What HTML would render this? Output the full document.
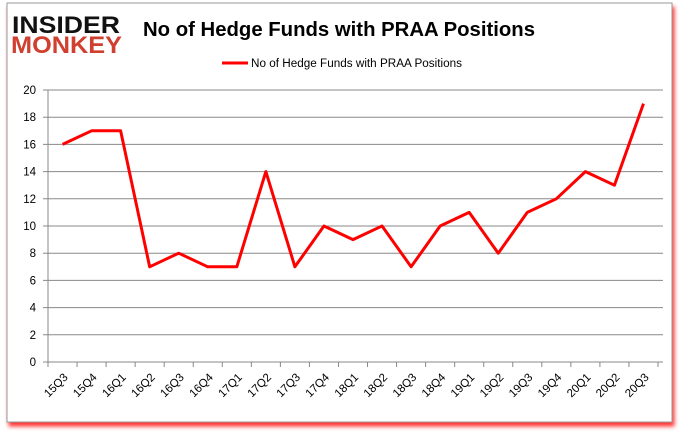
<!DOCTYPE html>
<html><head><meta charset="utf-8"><style>
body{margin:0;background:#fff;width:680px;height:433px;overflow:hidden;font-family:"Liberation Sans",sans-serif}
</style></head><body>
<svg width="680" height="433" xmlns="http://www.w3.org/2000/svg">
<defs><filter id="sh" x="-5%" y="-5%" width="110%" height="110%"><feDropShadow dx="2" dy="4" stdDeviation="2" flood-color="#f00" flood-opacity="0.8"/></filter></defs>
<rect x="7" y="3" width="665" height="419" fill="#fff" stroke="#999" filter="url(#sh)"/>
<g>
<text x="12" y="33" font-size="24" font-weight="bold" font-family="Liberation Sans" fill="#111" textLength="108" lengthAdjust="spacingAndGlyphs">INSIDER</text>
<text x="11" y="53" font-size="24" font-weight="bold" font-family="Liberation Sans" fill="#d04030" textLength="111" lengthAdjust="spacingAndGlyphs">MONKEY</text>
</g>
<text x="339" y="36" text-anchor="middle" font-size="20" font-weight="bold" fill="#000" textLength="392" lengthAdjust="spacingAndGlyphs">No of Hedge Funds with PRAA Positions</text>
<g>
<line x1="222" y1="63" x2="248" y2="63" stroke="#f00" stroke-width="3"/>
<text x="251" y="67" font-size="11.5" fill="#000" textLength="211" lengthAdjust="spacingAndGlyphs">No of Hedge Funds with PRAA Positions</text>
</g>
<g id="grid"></g><g id="axes"></g><g id="series"></g>
</svg>
<script>
const categories=["15Q3","15Q4","16Q1","16Q2","16Q3","16Q4","17Q1","17Q2","17Q3","17Q4","18Q1","18Q2","18Q3","18Q4","19Q1","19Q2","19Q3","19Q4","20Q1","20Q2","20Q3"];
const values=[16,17,17,7,8,7,7,14,7,10,9,10,7,10,11,8,11,12,14,13,19];
const yTicks=[0,2,4,6,8,10,12,14,16,18,20];
const NS="http://www.w3.org/2000/svg";
const L=48,R=658,T=90,B=362,YMAX=20;
const step=(R-L)/categories.length;
const x=i=>L+step*(i+0.5);
const y=v=>B-(v/YMAX)*(B-T);
function mk(tag,attrs,parent){const e=document.createElementNS(NS,tag);for(const k in attrs)e.setAttribute(k,attrs[k]);document.getElementById(parent).appendChild(e);return e;}
yTicks.forEach(t=>{
 const g=mk('line',{x1:L-5,x2:663,y1:y(t),y2:y(t),stroke:'#888','stroke-width':1},'grid');
 
 
 const tx=mk('text',{x:L-12,y:y(t)+4,'text-anchor':'end','font-size':11.5,fill:'#000'},'axes');
 tx.textContent=t;
 
 
});
const ax=mk('line',{x1:L,x2:L,y1:T,y2:B,stroke:'#888'},'axes');


for(let i=0;i<=categories.length;i++){
 const tk=mk('line',{x1:L+step*i,x2:L+step*i,y1:B,y2:B+5,stroke:'#888'},'axes');
 
 
}
categories.forEach((c,i)=>{
 const tx=mk('text',{x:x(i)+6,y:B+16,'text-anchor':'end','font-size':11.5,fill:'#000',transform:`rotate(-45 ${x(i)+6} ${B+16})`},'axes');
 tx.textContent=c;
 
 
});
const p=mk('polyline',{points:values.map((v,i)=>x(i)+','+y(v)).join(' '),fill:'none',stroke:'#f00','stroke-width':3,'stroke-linejoin':'round'},'series');


</script>
</body></html>
